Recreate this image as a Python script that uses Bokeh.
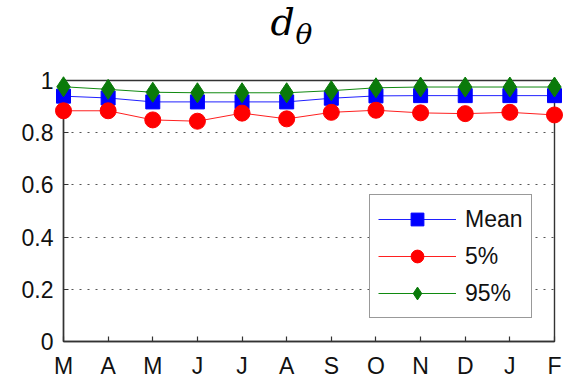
from bokeh.plotting import figure
from bokeh.models import (Range1d, LinearAxis, FixedTicker, Legend, LegendItem)
from bokeh.core.properties import value
from bokeh.embed import file_html
from bokeh.resources import INLINE

months = ["M", "A", "M", "J", "J", "A", "S", "O", "N", "D", "J", "F"]
x_idx = list(range(len(months)))
mean_vals = [0.940, 0.933, 0.918, 0.918, 0.918, 0.918, 0.932, 0.941, 0.942, 0.942, 0.942, 0.942]
p5_vals = [0.884, 0.884, 0.849, 0.844, 0.875, 0.853, 0.878, 0.886, 0.876, 0.873, 0.878, 0.868]
p95_vals = [0.976, 0.966, 0.955, 0.953, 0.953, 0.953, 0.961, 0.972, 0.975, 0.975, 0.975, 0.975]
y_ticks = [0, 0.2, 0.4, 0.6, 0.8, 1]
y_tick_labels = {0: "0", 0.2: "0.2", 0.4: "0.4", 0.6: "0.6", 0.8: "0.8", 1: "1"}
series_names = ["Mean", "5%", "95%"]
title_main = "d"
title_sub = "θ"

FONT = "Liberation Sans"
AX = "#333333"

x_range = Range1d(0, 11)
y_range = Range1d(0, 1)
p = figure(width=564, height=381, output_backend="svg", toolbar_location=None,
           x_range=x_range, y_range=y_range,
           min_border_left=63, min_border_right=10, min_border_top=80, min_border_bottom=37,
           x_axis_location=None, y_axis_location=None)
p.outline_line_color = AX
p.outline_line_width = 1.4
p.background_fill_color = "white"
p.border_fill_color = "white"

def style_axis(ax):
    ax.axis_line_color = AX
    ax.axis_line_width = 1.4
    ax.major_tick_line_color = AX
    ax.major_tick_line_width = 1.2
    ax.major_tick_in = 5
    ax.major_tick_out = 0
    ax.minor_tick_line_color = None
    ax.major_label_text_font = FONT
    ax.major_label_text_font_size = "23px"
    ax.major_label_text_color = "#111111"

xb = LinearAxis(ticker=FixedTicker(ticks=x_idx),
                major_label_overrides={i: m for i, m in enumerate(months)})
style_axis(xb)
xb.major_label_standoff = 11
p.add_layout(xb, "below")

yl = LinearAxis(ticker=FixedTicker(ticks=y_ticks), major_label_overrides=y_tick_labels)
style_axis(yl)
yl.major_label_standoff = 10
p.add_layout(yl, "left")

p.xgrid.visible = False
p.ygrid.grid_line_color = "#555555"
p.ygrid.grid_line_dash = "2 6"
p.ygrid.grid_line_width = 1
p.ygrid.ticker = FixedTicker(ticks=[0.2, 0.4, 0.6, 0.8])

l1 = p.line(x_idx, mean_vals, line_color="#2020ff", line_width=1, level="overlay")
m1 = p.scatter(x_idx, mean_vals, marker="square", size=14, fill_color="#0000ff",
               line_color="#0000ff", level="overlay")
l2 = p.line(x_idx, p5_vals, line_color="#ff2020", line_width=1, level="overlay")
m2 = p.scatter(x_idx, p5_vals, marker="circle", size=16, fill_color="#ff0000",
               line_color="#ff0000", level="overlay")
l3 = p.line(x_idx, p95_vals, line_color="#108a10", line_width=1, level="overlay")
m3 = p.scatter(x_idx, p95_vals, marker="diamond", size=20, fill_color="#0a7a0a",
               line_color="#0a7a0a", level="overlay")

legend = Legend(items=[LegendItem(label=series_names[0], renderers=[l1, m1]),
                       LegendItem(label=series_names[1], renderers=[l2, m2]),
                       LegendItem(label=series_names[2], renderers=[l3, m3])],
                location=(306, 23))
legend.glyph_width = 78
legend.glyph_height = 32
legend.label_height = 22
legend.spacing = 5
legend.padding = 8
legend.label_standoff = 9
legend.margin = 0
legend.border_line_color = AX
legend.border_line_width = 1.4
legend.background_fill_color = "white"
legend.background_fill_alpha = 1
legend.label_text_font = FONT
legend.label_text_font_size = "23px"
legend.label_text_color = "#111111"
p.add_layout(legend, "center")

# title d_theta above the frame, positioned relative to the x/y ranges
xc = (x_range.start + x_range.end) / 2
ytop = y_range.end
p.text(x=[xc - 0.86], y=[ytop + 0.224], text=[title_main], level="overlay",
       text_font=value("DejaVu Serif"), text_font_style="italic",
       text_font_size="38px", text_baseline="alphabetic", text_align="left",
       text_color="black")
p.text(x=[xc - 0.3], y=[ytop + 0.178], text=[title_sub], level="overlay",
       text_font=value("DejaVu Serif"), text_font_style="italic",
       text_font_size="28px", text_baseline="alphabetic", text_align="left",
       text_color="black")

open("out.html", "w").write(file_html(p, INLINE))
